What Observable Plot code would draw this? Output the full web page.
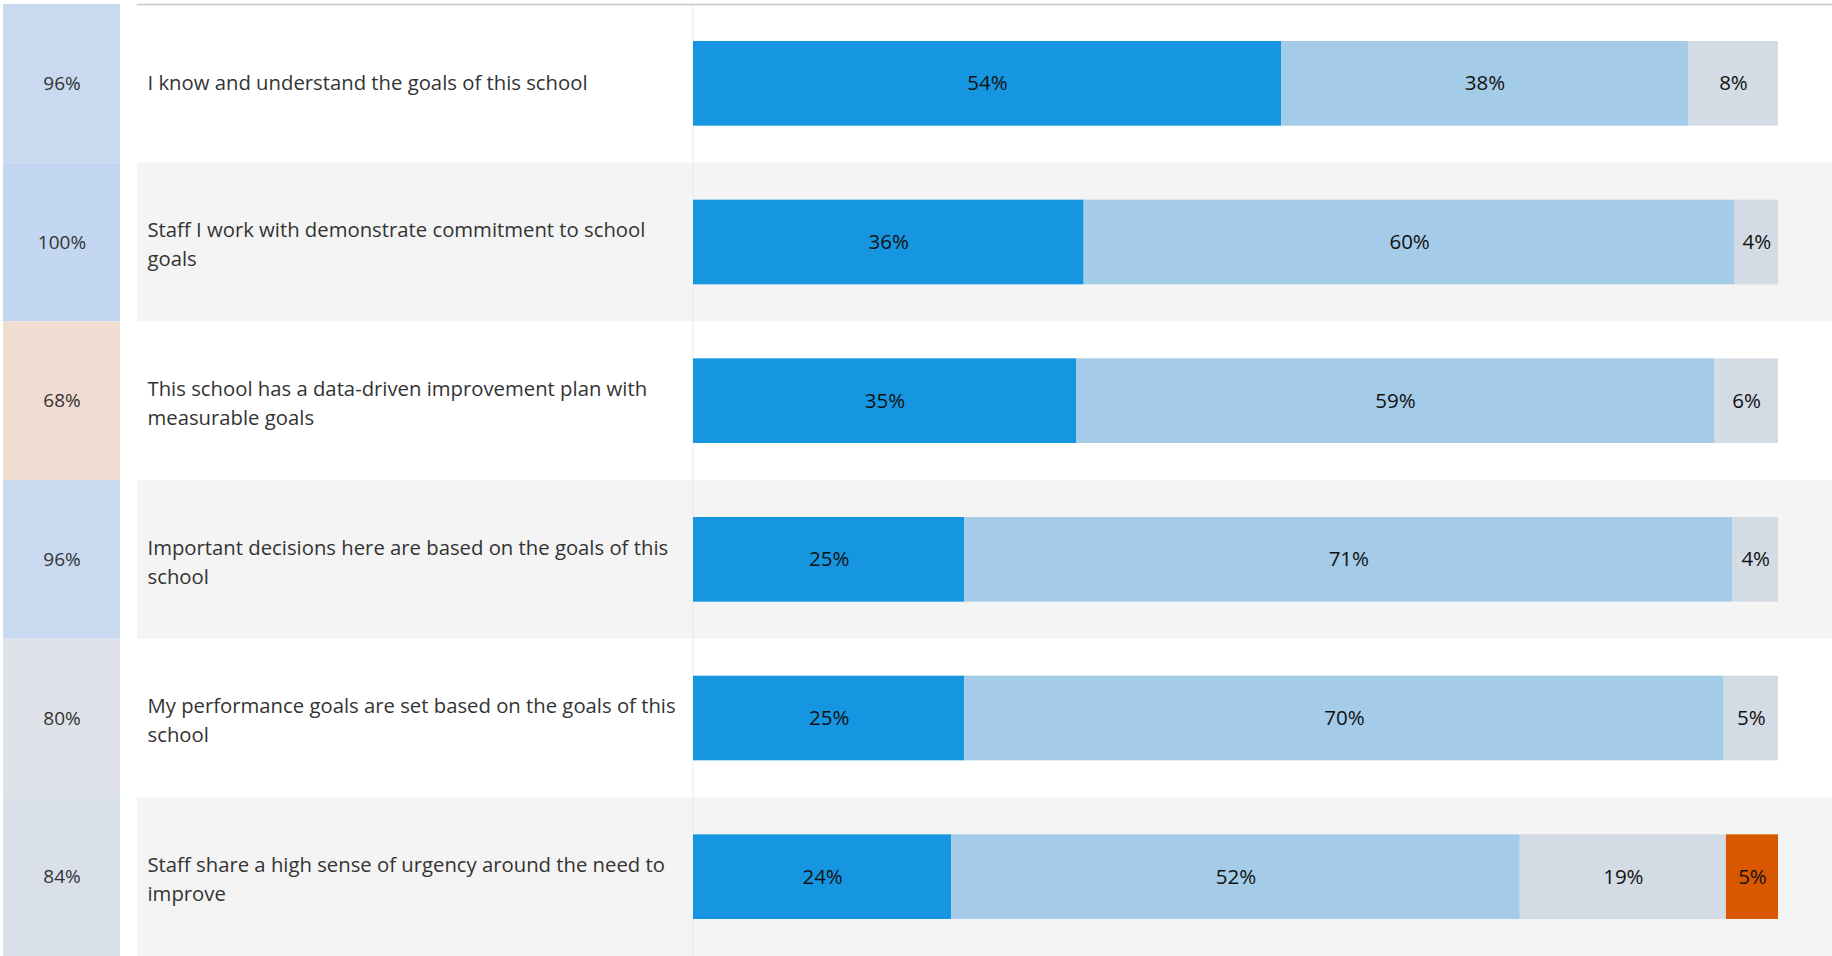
<!DOCTYPE html>
<html>
<head>
<meta charset="utf-8">
<script src="https://cdn.jsdelivr.net/npm/d3@7"></script>
<script src="https://cdn.jsdelivr.net/npm/@observablehq/plot@0.6"></script>
<style>
  html, body { margin: 0; padding: 0; background: #fff; }
  #wrap { display: flex; flex-direction: row; width: 1832px; height: 956px; overflow: hidden; }
  #wrap svg { display: block; }
</style>
</head>
<body>
<div id="wrap"></div>
<script>
const questions = [
  "I know and understand the goals of this school",
  "Staff I work with demonstrate commitment to school\ngoals",
  "This school has a data-driven improvement plan with\nmeasurable goals",
  "Important decisions here are based on the goals of this\nschool",
  "My performance goals are set based on the goals of this\nschool",
  "Staff share a high sense of urgency around the need to\nimprove"
];
const overall = [96, 100, 68, 96, 80, 84];
const categories = ["Strongly Agree", "Agree", "Disagree", "Strongly Disagree"];
const stronglyAgree = [54.2, 36, 35.3, 25, 25, 23.8];
const agree = [37.5, 60, 58.8, 70.8, 70, 52.4];
const disagree = [8.3, 4, 5.9, 4.2, 5, 19.0];
const stronglyDisagree = [0, 0, 0, 0, 0, 4.8];

const series = [stronglyAgree, agree, disagree, stronglyDisagree];
const responses = [];
questions.forEach((q, i) => {
  series.forEach((s, j) => {
    if (s[i] > 0) responses.push({question: q, category: categories[j], value: s[i]});
  });
});
const summary = questions.map((q, i) => ({question: q, pct: overall[i]}));
const shaded = questions.filter((q, i) => i % 2 === 1);
const oneLine = questions.filter(q => !q.includes("\n"));
const twoLine = questions.filter(q => q.includes("\n"));

const FONT = "Open Sans";
const H = 956, TOP = 4;

const left = Plot.plot({
  width: 120,
  height: H,
  marginLeft: 3,
  marginRight: 0,
  marginTop: TOP,
  marginBottom: 0,
  style: {fontFamily: FONT, background: "transparent"},
  x: {axis: null},
  y: {type: "band", domain: questions, padding: 0, round: false, axis: null},
  color: {type: "linear", domain: [68, 80, 100], range: ["#f0dcd0", "#dfe2e8", "#c3d7f2"]},
  marks: [
    Plot.cell(summary, {y: "question", fill: "pct"}),
    Plot.text(summary, {y: "question", text: d => d.pct + "%", frameAnchor: "middle", fontSize: 19, fill: "#333"})
  ]
});

const main = Plot.plot({
  width: 1712,
  height: H,
  marginLeft: 17,
  marginRight: 0,
  marginTop: TOP,
  marginBottom: 0,
  style: {fontFamily: FONT, background: "transparent"},
  x: {domain: [0, 100], range: [573, 1658], axis: null},
  y: {type: "band", domain: questions, padding: 0, round: false, axis: null},
  color: {domain: categories, range: ["#1696e0", "#a4cbe7", "#d3dbe5", "#d95700"]},
  marks: [
    Plot.cell(shaded, {y: d => d, fill: "#f4f4f4"}),
    Plot.ruleX([0], {stroke: "#e9e9e9", strokeWidth: 1, dx: -0.5}),
    Plot.frame({anchor: "top", stroke: "#c8c8c8", strokeWidth: 1.5}),
    Plot.text(oneLine, {y: d => d, text: d => d, frameAnchor: "left", textAnchor: "start", dx: 10, fontSize: 20.3, fill: "#333"}),
    Plot.text(twoLine, {y: d => d, text: d => d, frameAnchor: "left", textAnchor: "start", dx: 10, fontSize: 20.3, lineHeight: 1.44, fill: "#333"}),
    Plot.barX(responses, Plot.stackX({x: "value", y: "question", fill: "category", order: categories, insetTop: 37, insetBottom: 37})),
    Plot.text(responses, Plot.stackX({x: "value", y: "question", z: "category", order: categories, text: d => Math.round(d.value) + "%", fontSize: 20.5, fill: "#111"}))
  ]
});

document.getElementById("wrap").append(left, main);
</script>
</body>
</html>
